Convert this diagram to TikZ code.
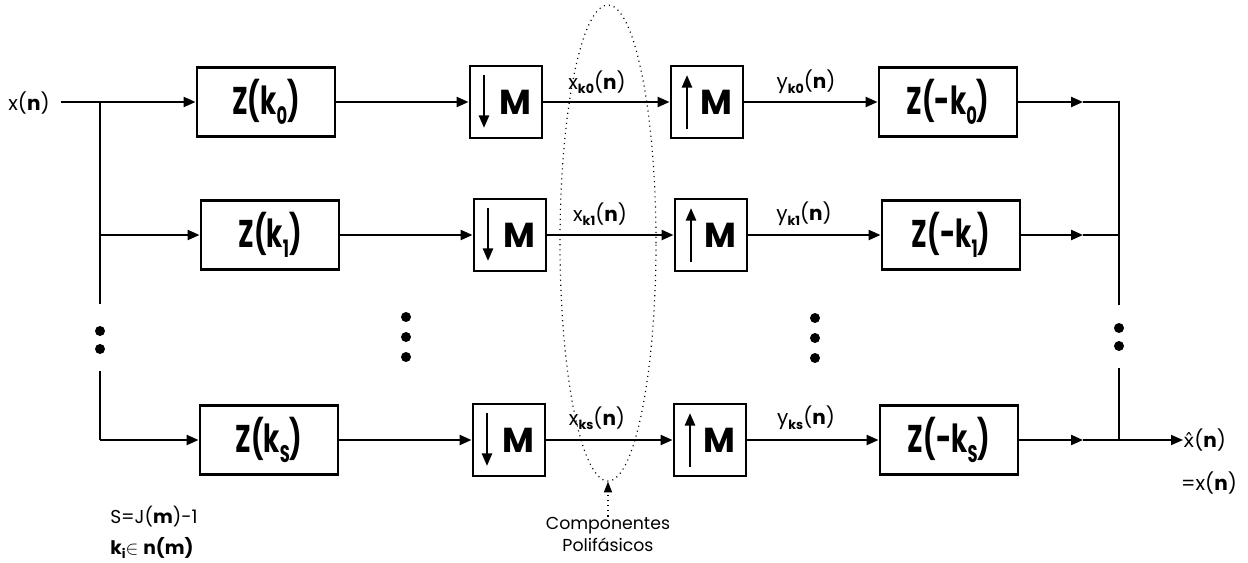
\documentclass[tikz,border=0pt]{standalone}
\usepackage{fontspec}
\setmainfont{Poppins}
\newfontfamily\blockfont{Poppins}[FakeStretch=0.68]
\newfontfamily\accentfont{DejaVu Sans}
\usetikzlibrary{arrows.meta,shapes.geometric}

% lowered subscripts
\newcommand{\blksub}[1]{\raisebox{-0.45ex}{\fontsize{18}{18}\selectfont #1}}
\newcommand{\sigsub}[1]{\raisebox{-0.4ex}{\fontsize{9.5}{9.5}\selectfont\bfseries #1}}

\tikzset{
  sig/.style={line width=1.7pt},
  tip/.style={-{Triangle[length=9pt,width=7.5pt]}},
  arr/.style={sig,tip},
  blk/.style={draw,line width=2.2pt,minimum width=103.5pt,minimum height=52pt,
    inner sep=0pt,font=\blockfont\bfseries\fontsize{29}{31}\selectfont},
  mbox/.style={draw,line width=2.2pt,minimum width=54pt,minimum height=54pt,
    inner sep=0pt,font=\bfseries\fontsize{26}{28}\selectfont},
  decim/.style={mbox,path picture={
    \draw[line width=2pt,-{Triangle[length=9.5pt,width=7.5pt]}]
      ([xshift=10.5pt,yshift=-6.75pt]path picture bounding box.north west) --
      ([xshift=10.5pt,yshift=7.5pt]path picture bounding box.south west);}},
  interp/.style={mbox,path picture={
    \draw[line width=2pt,-{Triangle[length=9.5pt,width=7.5pt]}]
      ([xshift=12pt,yshift=6.75pt]path picture bounding box.south west) --
      ([xshift=12pt,yshift=-6.75pt]path picture bounding box.north west);}},
  lbl/.style={inner sep=0pt,font=\fontsize{15}{17}\selectfont},
  dotmark/.style={circle,fill,inner sep=0pt,minimum size=7.5pt},
  poly/.style={line width=0.9pt,dash pattern=on 0.8pt off 3pt}
}

\begin{document}
\begin{tikzpicture}[x=0.75pt,y=-0.75pt]
\useasboundingbox (0,0) rectangle (1248,563);

% analysis filters
\node[blk] (z0) at (266,102) {Z(k\blksub{0})};
\node[blk] (z1) at (270,235) {Z(k\blksub{1})};
\node[blk] (zs) at (269,440) {Z(k\blksub{S})};

% decimators
\node[decim] (d0) at (506,102) {\hspace*{14pt}M};
\node[decim] (d1) at (510,235) {\hspace*{14pt}M};
\node[decim] (ds) at (509,440) {\hspace*{14pt}M};

% expanders
\node[interp] (u0) at (707,102) {\hspace*{14pt}M};
\node[interp] (u1) at (711,235) {\hspace*{14pt}M};
\node[interp] (us) at (710,440) {\hspace*{14pt}M};

% synthesis filters
\node[blk] (w0) at (948,102) {Z(-k\blksub{0})};
\node[blk] (w1) at (951,235) {Z(-k\blksub{1})};
\node[blk] (ws) at (949,440) {Z(-k\blksub{S})};

% input and distribution bus
\node[lbl] (xin) at (29,103) {x(\textbf{n})};
\coordinate (in0) at (61,102);
\coordinate (b0) at (100,102);
\coordinate (b1) at (100,235);
\coordinate (bup) at (100,304);
\coordinate (blo) at (100,371);
\coordinate (bs) at (100,440);
\draw[arr] (in0) -- (z0);
\draw[sig] (b0) -- (bup);
\draw[sig] (blo) -- (bs);
\draw[arr] (b1) -- (z1);
\draw[arr] (bs) -- (zs);
\node[dotmark] (ld1) at (100,331) {};
\node[dotmark] (ld2) at (100,349) {};

% filter -> decimator -> expander -> filter
\foreach \r in {0,1,s}{
  \draw[arr] (z\r) -- (d\r);
  \draw[arr] (d\r) -- (u\r);
  \draw[arr] (u\r) -- (w\r);
}

% branch labels
\node[lbl] (xk0) at (597,82) {x\sigsub{k0}(\textbf{n})};
\node[lbl] (xk1) at (600,214) {x\sigsub{k1}(\textbf{n})};
\node[lbl] (xks) at (597,418) {x\sigsub{ks}(\textbf{n})};
\node[lbl] (yk0) at (806,82) {y\sigsub{k0}(\textbf{n})};
\node[lbl] (yk1) at (804,214) {y\sigsub{k1}(\textbf{n})};
\node[lbl] (yks) at (806,418) {y\sigsub{ks}(\textbf{n})};

% vertical ellipsis between rows
\node[dotmark] (m1) at (406,317) {};
\node[dotmark] (m2) at (406,337) {};
\node[dotmark] (m3) at (406,357) {};
\node[dotmark] (n1) at (815,318) {};
\node[dotmark] (n2) at (815,338) {};
\node[dotmark] (n3) at (815,358) {};

% summation bus
\coordinate (t0) at (1083,102);
\coordinate (t1) at (1083,235);
\coordinate (ts) at (1083,440);
\coordinate (s0) at (1119,102);
\coordinate (s1) at (1119,235);
\coordinate (sup) at (1119,305);
\coordinate (slo) at (1119,368);
\coordinate (ss) at (1119,440);
\draw[arr] (w0) -- (t0);
\draw[arr] (w1) -- (t1);
\draw[arr] (ws) -- (ts);
\draw[sig,line width=1.3pt] (t0) -- (s0) -- (sup);
\draw[sig,line width=1.3pt] (t1) -- (s1);
\draw[sig,line width=1.3pt] (slo) -- (ss) -- (ts);
\node[dotmark] (rd1) at (1119,328) {};
\node[dotmark] (rd2) at (1119,346) {};
\node[lbl,anchor=west] (xout) at (1183,440) {{\accentfont\fontsize{14}{17}\selectfont x̂}(\textbf{n})};
\draw[arr,line width=1.3pt] (ss) -- (xout.west);
\node[lbl] (xeq) at (1209,483) {=x(\textbf{n})};

% polyphase components
\node[draw,ellipse,poly,minimum width=72pt,minimum height=357pt,inner sep=0pt] (pc) at (608,243) {};
\node[lbl,align=center,font=\fontsize{13}{16.5}\selectfont] (pclbl) at (608,534) {Componentes\\Polifásicos};
\draw[poly,-{Triangle[length=8pt,width=6pt]}] (pclbl.north) -- (pc.south);

% index set
\node[lbl,anchor=west,font=\fontsize{14}{16}\selectfont] (seq) at (110,517) {S=J(\textbf{m})-1};
\node[lbl,anchor=west,font=\fontsize{14}{16}\selectfont] (kin) at (110,548) {\textbf{k}\sigsub{i}$\in$ \textbf{n(m)}};
\end{tikzpicture}
\end{document}
